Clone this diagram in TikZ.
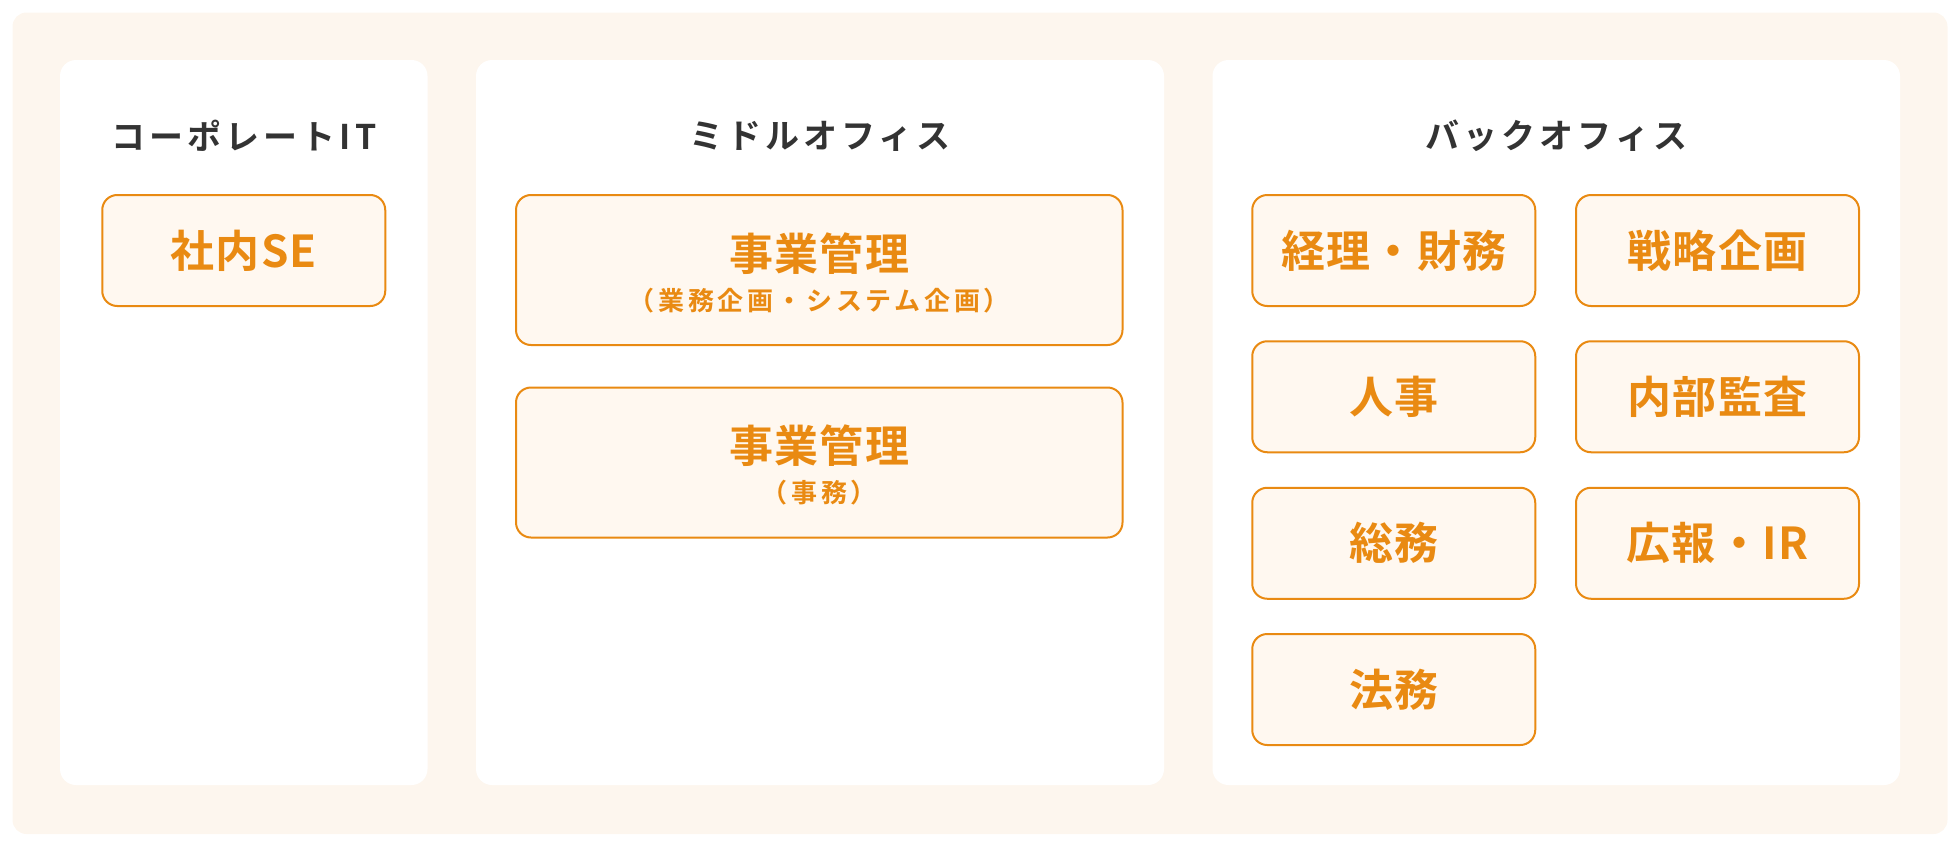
\documentclass[tikz,border=0pt]{standalone}
\usepackage{fontspec}
\setmainfont{Noto Sans CJK JP}[BoldFont={Noto Sans CJK JP Bold}]
\newfontfamily\headfont{Noto Sans CJK JP Bold}[LetterSpace=12]
\newfontfamily\itemfont{Noto Sans CJK JP Bold}[LetterSpace=3]
\newfontfamily\notefont{Noto Sans CJK JP Bold}[LetterSpace=14]
\usetikzlibrary{positioning}
\definecolor{bgcream}{HTML}{FDF6EE}
\definecolor{headgray}{HTML}{333333}
\definecolor{itemorange}{HTML}{E98A12}
\definecolor{itemfill}{HTML}{FFF8F0}
\newcommand{\notetext}[1]{{\notefont\fontsize{13}{15}\selectfont #1}}

\begin{document}
\begin{tikzpicture}[x=0.5pt,y=-0.5pt,
	panel/.style={fill=white, rounded corners=8pt, minimum height=362.5pt, inner sep=0pt},
	head/.style={text=headgray, font=\headfont\fontsize{17}{17}\selectfont},
	item/.style={draw=itemorange, line width=1pt, fill=itemfill, rounded corners=7.5pt, text=itemorange,
		font=\itemfont\fontsize{22}{24}\selectfont, minimum width=141.5pt, minimum height=55.5pt,
		inner sep=0pt, align=center},
	wide/.style={item, minimum width=303.25pt, minimum height=75pt}]
	\useasboundingbox (0,0) rectangle (1960,846);
	\fill[bgcream, rounded corners=7pt] (12.5,12.5) rectangle (1947.5,834);

	% three columns
	\node[panel, minimum width=183.75pt] (corp) at (243.75,422.5) {};
	\node[panel, minimum width=344pt] (middle) at (820,422.5) {};
	\node[panel, minimum width=343.75pt] (back) at (1556.25,422.5) {};

	\node[head] (corphead) at (243.75,136) {コーポレートIT};
	\node[head] (middlehead) at (820,136) {ミドルオフィス};
	\node[head] (backhead) at (1556.25,136) {バックオフィス};

	\node[item] (se) at (243.75,250.5) {社内SE};

	\node[wide] (plan) at (819.25,270)
		{\rule{0pt}{21.5pt}事業管理\\[-4pt]\notetext{（業務企画・システム企画）}};
	\node[wide] (office) at (819.25,462.5)
		{\rule{0pt}{21.5pt}事業管理\\[-4pt]\notetext{（事務）}};

	\node[item] (account) at (1393.75,250.5) {経理・財務};
	\node[item] (hr) at (1393.75,396.75) {人事};
	\node[item] (general) at (1393.75,543.25) {総務};
	\node[item] (legal) at (1393.75,689.5) {法務};
	\node[item] (strategy) at (1717.5,250.5) {戦略企画};
	\node[item] (audit) at (1717.5,396.75) {内部監査};
	\node[item] (pr) at (1717.5,543.25) {広報・IR};
\end{tikzpicture}
\end{document}
